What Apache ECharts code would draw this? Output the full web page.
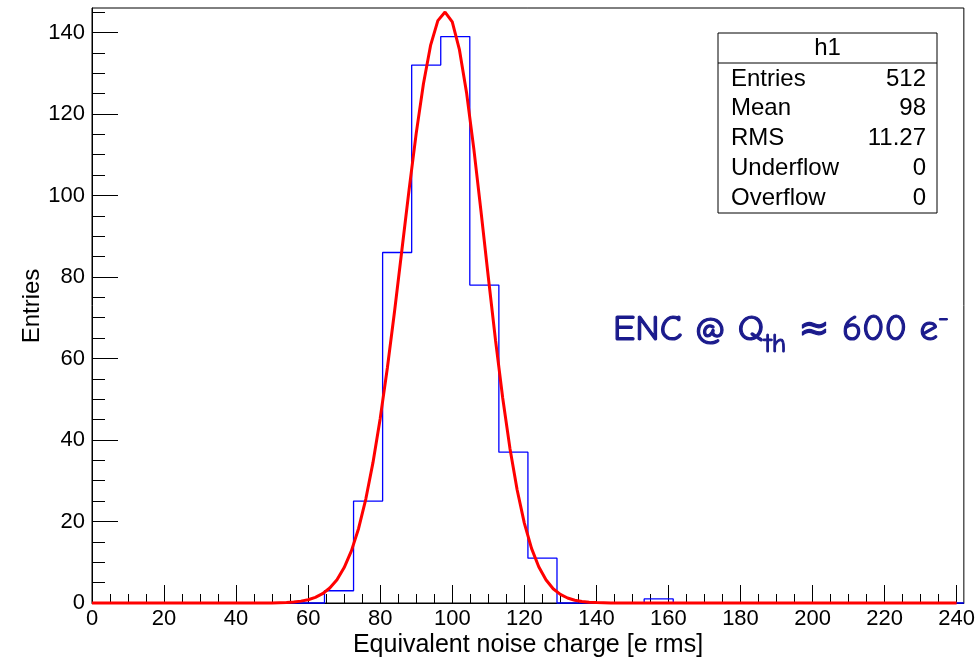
<!DOCTYPE html>
<html>
<head>
<meta charset="utf-8">
<script src="https://cdn.jsdelivr.net/npm/echarts@6/dist/echarts.min.js"></script>
<style>html,body{margin:0;padding:0;background:#fff;}#c{width:978px;height:658px;}</style>
</head>
<body>
<div id="c"></div>
<script>
// ---- data ----
const xRange = [0, 242];
const yRange = [0, 146];
const nBins = 30;
const binCounts = [0,0,0,0,0,0,0,0,3,25,86,132,139,78,37,11,0,0,0,1,0,0,0,0,0,0,0,0,0,0];
const fitX = [0,50,54,56,58,60,62,64,66,68,70,72,74,76,78,80,82,84,86,88,90,92,94,96,98,100,102,104,106,108,110,112,114,116,118,120,122,124,126,128,130,132,134,136,138,140,144,150,240];
const fitY = [0,0.02,0.1,0.26,0.46,0.81,1.38,2.28,3.67,5.7,8.7,12.8,18.3,25.5,34.5,45.3,57.8,71.7,86.5,101.3,115.3,127.4,136.9,142.9,145,142.6,135.7,125,111.3,95.9,80,64.5,50.3,38,27.8,19.6,13.4,8.9,5.7,3.5,2.1,1.22,0.68,0.37,0.19,0.1,0.02,0,0];
const xMajorTicks = [0,20,40,60,80,100,120,140,160,180,200,220,240];
const yMajorTicks = [0,20,40,60,80,100,120,140];
const statsTitle = 'h1';
const statsNames = ['Entries','Mean','RMS','Underflow','Overflow'];
const statsValues = ['512','98','11.27','0','0'];
const xTitle = 'Equivalent noise charge [e rms]';
const yTitle = 'Entries';

// ---- build ----
const xMinorTicks = [];
for (let v = 5; v < xRange[1]; v += 5) if (v % 20 !== 0) xMinorTicks.push(v);
const yMinorTicks = [];
for (let v = 5; v < yRange[1]; v += 5) if (v % 20 !== 0) yMinorTicks.push(v);

const bw = (xRange[1] - xRange[0]) / nBins;
const histData = [];
for (let i = 0; i < nBins; i++) histData.push([xRange[0] + i * bw, binCounts[i]]);
histData.push([xRange[1], binCounts[nBins - 1]]);
const fitData = fitX.map((x, i) => [x, fitY[i]]);

const FONT = '"Liberation Sans", Arial, Helvetica, sans-serif';
const G = {left: 92, top: 8, width: 872, height: 595};

const chart = echarts.init(document.getElementById('c'), null, {renderer: 'canvas'});

function xAx(ticks, len, labels, line) {
  return {
    type: 'value', min: xRange[0], max: xRange[1], position: 'bottom', gridIndex: 0,
    axisLine: {show: line, onZero: false, lineStyle: {color: '#000', width: 1}},
    axisTick: {show: true, inside: true, length: len, customValues: ticks, lineStyle: {color: '#000', width: 1}},
    axisLabel: {show: labels, customValues: ticks, color: '#000', fontSize: 22, fontFamily: FONT, margin: 5},
    splitLine: {show: false}
  };
}
function yAx(ticks, len, labels, line) {
  return {
    type: 'value', min: yRange[0], max: yRange[1], position: 'left', gridIndex: 0,
    axisLine: {show: line, onZero: false, lineStyle: {color: '#000', width: 1}},
    axisTick: {show: true, inside: true, length: len, customValues: ticks, lineStyle: {color: '#000', width: 1}},
    axisLabel: {show: labels, customValues: ticks, color: '#000', fontSize: 22, fontFamily: FONT, margin: 7},
    splitLine: {show: false}
  };
}

const bx = 718, by = 33, bwid = 219, rowH = 29.8;
const SF = '24px ' + FONT;
const statsGraphics = [
  {type: 'rect', shape: {x: bx, y: by, width: bwid, height: 180}, style: {fill: '#fff', stroke: '#000', lineWidth: 1}, z: 10},
  {type: 'line', shape: {x1: bx, y1: by + 30, x2: bx + bwid, y2: by + 30}, style: {stroke: '#000', lineWidth: 1}, z: 11},
  {type: 'text', x: bx + bwid / 2, y: by + 15, style: {text: statsTitle, font: SF, fill: '#000', align: 'center', verticalAlign: 'middle'}, z: 11}
];
statsNames.forEach((n, i) => {
  const cy = by + 46 + i * rowH;
  statsGraphics.push({type: 'text', x: bx + 13, y: cy, style: {text: n, font: SF, fill: '#000', align: 'left', verticalAlign: 'middle'}, z: 11});
  statsGraphics.push({type: 'text', x: bx + bwid - 11, y: cy, style: {text: statsValues[i], font: SF, fill: '#000', align: 'right', verticalAlign: 'middle'}, z: 11});
});

const CF = '"Comic Sans MS", "Comic Neue", "DejaVu Sans", sans-serif';
const TC = '#1a1a8c';
chart.setOption({
  animation: false,
  backgroundColor: '#fff',
  grid: [{left: G.left, top: G.top, width: G.width, height: G.height, show: true, borderColor: '#000', borderWidth: 1, backgroundColor: 'transparent'}],
  xAxis: [xAx(xMajorTicks, 18, true, true), xAx(xMinorTicks, 9, false, false)],
  yAxis: [yAx(yMajorTicks, 26, true, true), yAx(yMinorTicks, 13, false, false)],
  series: [
    {type: 'line', name: 'h1', xAxisIndex: 0, yAxisIndex: 0, data: histData, step: 'end', showSymbol: false, symbol: 'none', clip: false,
     lineStyle: {color: '#0000ff', width: 1.3}, z: 3},
    {type: 'line', name: 'fit', xAxisIndex: 0, yAxisIndex: 0, data: fitData, showSymbol: false, symbol: 'none', smooth: false, clip: false,
     lineStyle: {color: '#ff0000', width: 3}, z: 4}
  ],
  graphic: [
    {type: 'text', x: 528, y: 645, style: {text: xTitle, font: '25px ' + FONT, fill: '#000', align: 'center', verticalAlign: 'middle'}},
    {type: 'text', x: 32, y: 306, rotation: Math.PI / 2, style: {text: yTitle, font: '24px ' + FONT, fill: '#000', align: 'center', verticalAlign: 'middle'}},
    {type: 'text', x: 613, y: 348, z: 12, style: {
      text: '{m|ENC @ Q}{s|th}{m| ≈ 600 e}{p|-}', fill: TC, align: 'left', verticalAlign: 'bottom',
      stroke: TC, lineWidth: 0.8,
      rich: {
        m: {font: '37px ' + CF, fill: TC, stroke: TC, lineWidth: 1.2, verticalAlign: 'bottom'},
        s: {font: '27px ' + CF, fill: TC, stroke: TC, lineWidth: 1, padding: [0, 0, -10, 0], verticalAlign: 'bottom'},
        p: {font: '27px ' + CF, fill: TC, stroke: TC, lineWidth: 1, padding: [0, 0, 16, 0], verticalAlign: 'bottom'}
      }
    }}
  ].concat(statsGraphics)
});
</script>
</body>
</html>
